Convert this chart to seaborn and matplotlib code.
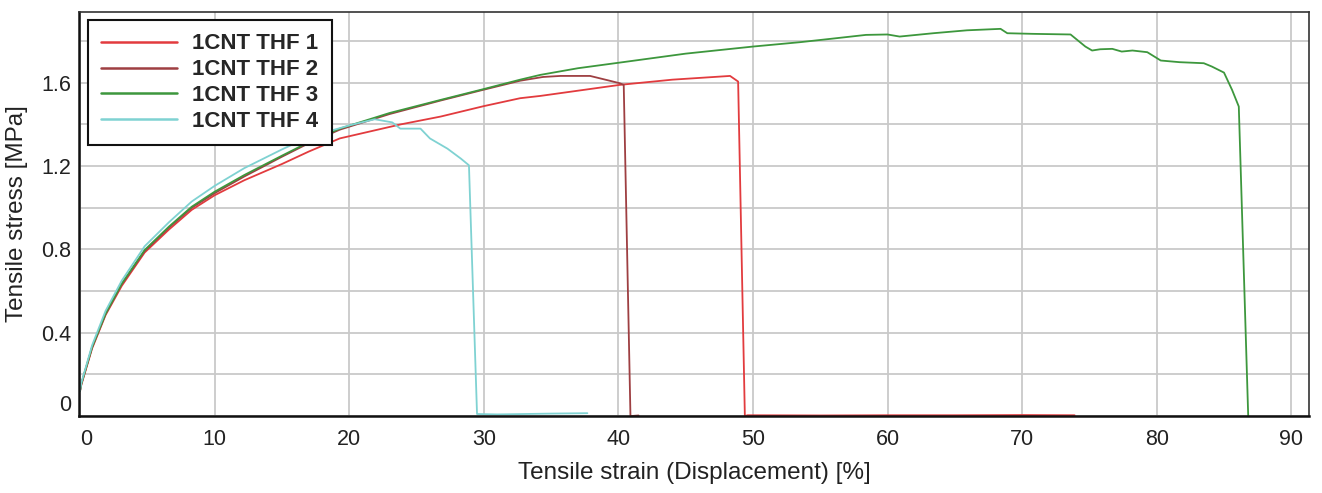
import numpy as np
import pandas as pd
import seaborn as sns
import matplotlib.pyplot as plt

# values
x1 = [0, 0.1, 0.9, 1.9, 3.1, 4.8, 6.6, 8.3, 10, 12.2, 15, 17, 19.3, 23.8, 26.8, 30, 32.7,
      34.2, 40.1, 44, 48.3, 48.9, 49.4, 49.6, 55, 60, 65, 70, 73.9]
y1 = [0.12, 0.15, 0.325, 0.485, 0.625, 0.785, 0.895, 0.99, 1.06, 1.132, 1.21, 1.27, 1.333, 1.40, 1.438, 1.488, 1.526,
      1.537, 1.59, 1.615, 1.633, 1.606, 0.0, 0.004, 0.003, 0.004, 0.004, 0.005, 0.004]

x2 = [0, 0.1, 0.9, 1.9, 3.1, 4.8, 6.6, 8.3, 10, 12.2, 15, 17, 19.3, 23, 26.8, 30, 32.7,
      34.4, 35.7, 37.9, 39.1, 40.1, 40.4, 40.9, 41.5]
y2 = [0.12, 0.155, 0.33, 0.49, 0.633, 0.792, 0.905, 1.0, 1.07, 1.15, 1.245, 1.31, 1.375, 1.45, 1.515, 1.567, 1.61,
      1.628, 1.633, 1.633, 1.614, 1.598, 1.59, 0.0, 0.003]

x3 = [0, 0.1, 0.9, 1.9, 3.1, 4.8, 6.6, 8.3, 10, 12.2, 15, 17, 19.3, 23, 26.8, 30, 32.7, 34.2, 37,
      40.1, 45, 50, 53.5, 55.9, 58.4, 60, 60.9, 63.4, 65.9, 68.4, 68.9, 70.8, 73.6, 74.7, 75.2,
      75.8, 76.7, 77.4, 78.2, 79.3, 80.3, 81.7, 83.5, 84.1, 85.0, 85.6, 86.1, 86.8]
y3 = [0.12, 0.155, 0.332, 0.492, 0.636, 0.797, 0.909, 1.005, 1.077, 1.157, 1.25, 1.315, 1.38, 1.455, 1.518, 1.57, 1.615, 1.638, 1.67,
      1.697, 1.74, 1.774, 1.795, 1.812, 1.83, 1.832, 1.822, 1.838, 1.852, 1.859, 1.838, 1.835, 1.832, 1.774, 1.755,
      1.761, 1.763, 1.75, 1.755, 1.747, 1.707, 1.699, 1.694, 1.678, 1.649, 1.566, 1.486, 0.0]

x4 = [0, 0.1, 0.9, 1.9, 3.1, 4.8, 6.6, 8.3, 10, 12.2, 15, 17, 20.1, 21.9, 23.2, 23.8, 25.3, 26.0,
      27.3, 28.3, 28.9, 29.5, 31, 33, 35, 37.7]
y4 = [0.12, 0.16, 0.34, 0.505, 0.65, 0.815, 0.93, 1.03, 1.105, 1.19, 1.28, 1.34, 1.397, 1.425, 1.41, 1.38, 1.38, 1.333,
      1.284, 1.236, 1.204, 0.01, 0.008, 0.01, 0.012, 0.014]

labels = ['1CNT THF 1', '1CNT THF 2', '1CNT THF 3', '1CNT THF 4']
colors = ['#e23b3e', '#9e3f42', '#3d973d', '#7fd2d2']

frames = []
for lab, xs, ys in zip(labels, [x1, x2, x3, x4], [y1, y2, y3, y4]):
    frames.append(pd.DataFrame({'strain': xs, 'stress': ys, 'sample': lab}))
df = pd.concat(frames, ignore_index=True)

sns.set_style('white')
plt.rcParams['font.family'] = ['Liberation Sans', 'DejaVu Sans']

fig = plt.figure(figsize=(13.22, 4.93), dpi=100)
ax = fig.add_axes([0.06, 0.156, 0.930, 0.8197])

sns.lineplot(data=df, x='strain', y='stress', hue='sample', palette=dict(zip(labels, colors)),
             sort=False, estimator=None, linewidth=1.3, ax=ax)

ax.set_xlim(-0.05, 91.3)
ax.set_ylim(0, 1.94)
ax.set_xticks(np.arange(0, 91, 10))
ax.set_yticks([0, 0.4, 0.8, 1.2, 1.6])
ax.set_yticks([0.2, 0.6, 1.0, 1.4, 1.8], minor=True)
ax.set_yticklabels(['0', '0.4', '0.8', '1.2', '1.6'])
ax.grid(True, which='both', color='#c9c9c9', linewidth=1.3)
ax.set_axisbelow(True)
ax.tick_params(axis='both', which='both', length=0, labelsize=15.5, colors='#222222')
ax.tick_params(axis='x', pad=9)
ax.tick_params(axis='y', pad=6)

# first tick labels sit inside the corner in the original
ax.get_xticklabels()[0].set_horizontalalignment('left')
ax.get_yticklabels()[0].set_verticalalignment('bottom')

for side in ['top', 'right']:
    ax.spines[side].set_color('#333333')
    ax.spines[side].set_linewidth(1.2)
for side in ['left', 'bottom']:
    ax.spines[side].set_color('#111111')
    ax.spines[side].set_linewidth(1.8)

ax.set_xlabel('Tensile strain (Displacement) [%]', fontsize=17.5, color='#222222', labelpad=9)
ax.set_ylabel('Tensile stress [MPa]', fontsize=17.5, color='#222222', labelpad=9)

leg = ax.legend(loc='upper left', bbox_to_anchor=(0.007, 0.98), borderaxespad=0,
                prop={'weight': 'bold', 'size': 16}, handlelength=3.4, handletextpad=0.7,
                labelspacing=0.22, borderpad=0.6, fancybox=False, framealpha=1, edgecolor='#111111')
leg.get_frame().set_linewidth(1.5)
for line in leg.get_lines():
    line.set_linewidth(1.8)

fig.savefig('out.png', dpi=100)
